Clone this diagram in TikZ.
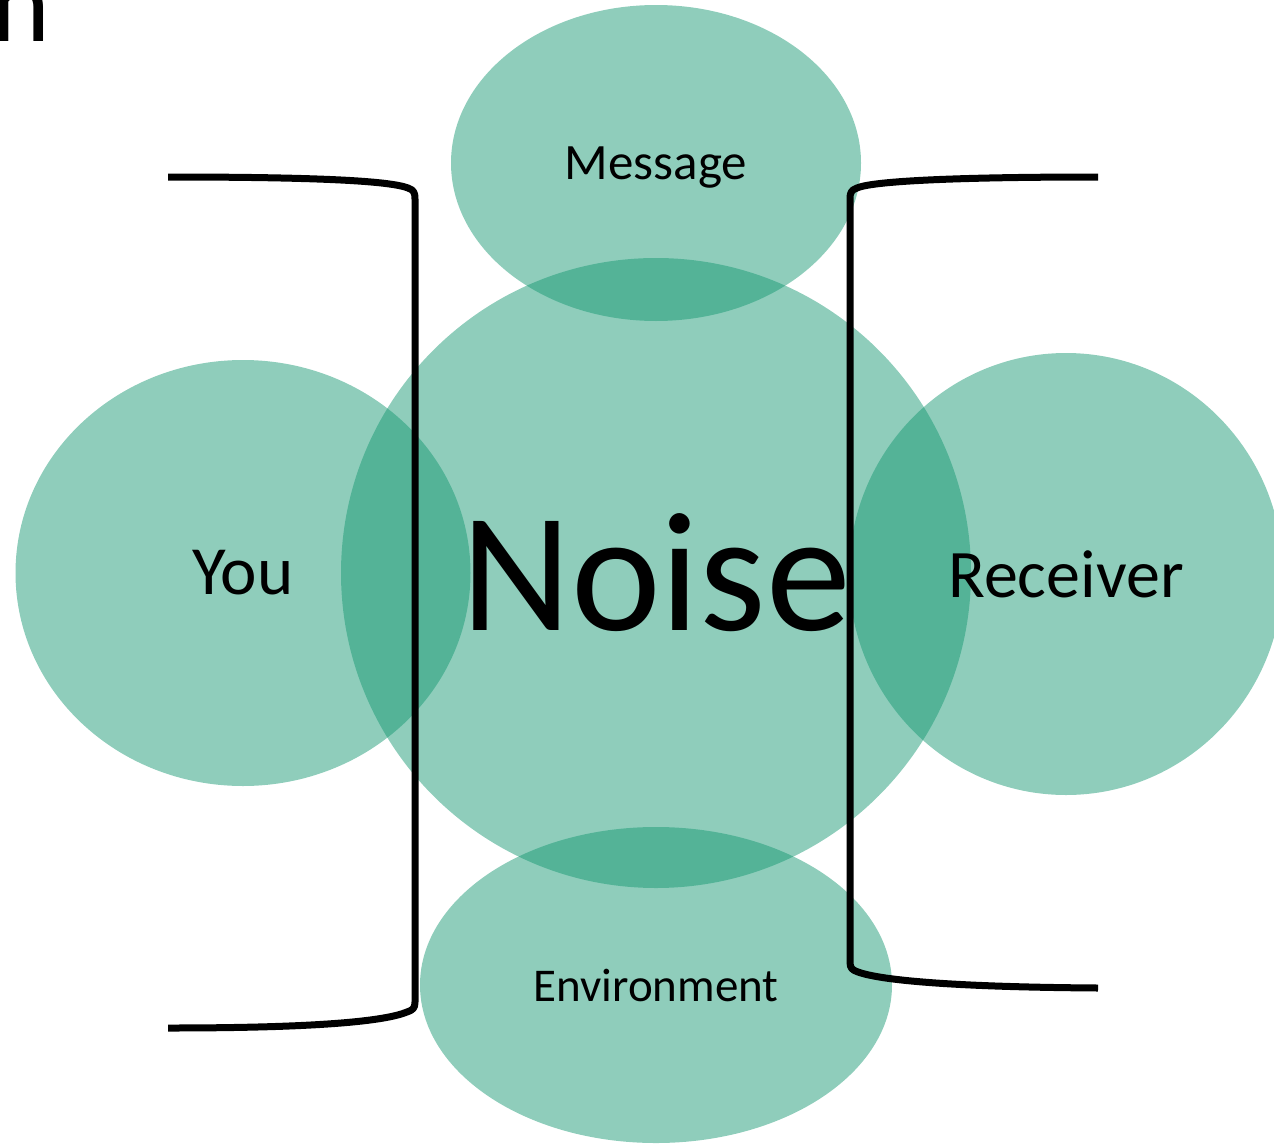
\documentclass[tikz,border=0pt]{standalone}
\usepackage{fontspec}
\setmainfont{Carlito}
\usetikzlibrary{shapes.geometric}
\definecolor{teal}{RGB}{20,151,113}
\begin{document}
\begin{tikzpicture}[x=1pt,y=-1pt,
  blob/.style={ellipse,fill=teal,fill opacity=0.48,text opacity=1,inner sep=0pt,draw=none},
  bracket/.style={line width=7pt,line join=round}]
\useasboundingbox (0,0) rectangle (1274,1143);
\clip (0,0) rectangle (1274,1143);
\node[anchor=base west,inner sep=0pt,font=\fontsize{112}{120}\selectfont] (title) at (-9,41) {n};
\node[blob,minimum width=630pt,minimum height=630pt,font=\fontsize{170}{180}\selectfont] (noise) at (656,573) {Noise};
\node[blob,minimum width=410pt,minimum height=316pt] (message) at (656,163) {};
\node[font=\fontsize{51}{56}\selectfont,inner sep=0pt] (messagetext) at (656,168) {Message};
\node[blob,minimum width=455pt,minimum height=426pt,font=\fontsize{69}{76}\selectfont] (you) at (243,573) {You};
\node[blob,minimum width=434pt,minimum height=442pt,font=\fontsize{68}{76}\selectfont] (receiver) at (1066,574) {Receiver};
\node[blob,minimum width=472pt,minimum height=316pt,font=\fontsize{47}{54}\selectfont] (environment) at (656,985) {Environment};
\draw[bracket] (168,177) .. controls (320,177) and (390,181) .. (408,188)
  .. controls (414,190) and (415,193) .. (415,199) -- (415,1002)
  .. controls (415,1008) and (413,1010) .. (407,1012)
  .. controls (385,1021) and (320,1028) .. (168,1028);
\draw[bracket] (1098,177) .. controls (940,177) and (870,182) .. (857,188)
  .. controls (851,190) and (850,193) .. (850,199) -- (850,962)
  .. controls (850,968) and (852,970) .. (858,972)
  .. controls (880,980) and (950,987) .. (1098,988);
\end{tikzpicture}
\end{document}
